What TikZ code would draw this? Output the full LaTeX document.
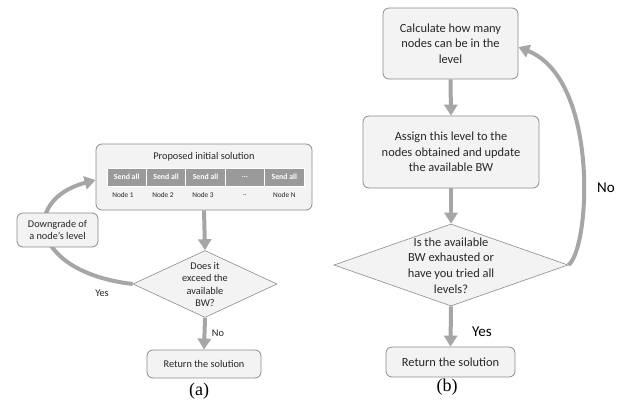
\documentclass[tikz,border=0pt]{standalone}
\usepackage{fontspec}
\setmainfont{Carlito}
\newfontfamily\capfont{Liberation Serif}
\usetikzlibrary{arrows.meta,shapes.geometric}
\definecolor{boxfill}{HTML}{F3F3F3}
\definecolor{boxdraw}{HTML}{8C8C8C}
\definecolor{cellfill}{HTML}{9A9A9A}
\definecolor{arrowgray}{HTML}{A6A6A6}
\tikzset{
  box/.style={draw=boxdraw, fill=boxfill, rounded corners=6pt, line width=0.8pt, inner sep=0pt},
  dia/.style={draw=boxdraw, fill=boxfill, diamond, line width=0.6pt, inner sep=0pt},
  cell/.style={draw=white, line width=1pt, fill=cellfill, minimum width=39.4pt, minimum height=18pt, inner sep=0pt, text=white, font=\fontsize{7.8}{8}\selectfont\bfseries},
  nlab/.style={font=\fontsize{7.3}{8}\selectfont, text=black!85},
  txta/.style={align=center, font=\fontsize{10.3}{12.3}\selectfont, text=black!85},
  txtb/.style={align=center, font=\fontsize{12.4}{15.6}\selectfont, text=black!85},
  conn/.style={draw=arrowgray, line width=4pt, -{Triangle[width=13pt,length=11pt]}},
  captext/.style={font=\capfont\fontsize{18}{18}\selectfont}
}
\begin{document}
\begin{tikzpicture}[x=1pt,y=-1pt]
\useasboundingbox[fill=white] (0,0) rectangle (621,405);
% ---------- panel (a)
\node[box, minimum width=216pt, minimum height=66pt] (prop) at (204,177) {};
\node[txta] (proptitle) at (204,157) {Proposed initial solution};
\node[cell] (s1) at (126.7,177) {Send all};
\node[cell] (s2) at (166.1,177) {Send all};
\node[cell] (s3) at (205.5,177) {Send all};
\node[cell] (s4) at (244.9,177) {...};
\node[cell] (s5) at (284.3,177) {Send all};
\node[nlab] (n1) at (123,195) {Node 1};
\node[nlab] (n2) at (163,195) {Node 2};
\node[nlab] (n3) at (203,195) {Node 3};
\node[nlab] (n4) at (244.9,195) {..};
\node[nlab] (n5) at (284.3,195) {Node N};
\node[dia, minimum width=144pt, minimum height=67pt] (dA) at (205,284) {};
\node[box, minimum width=114pt, minimum height=28pt, txta] (rA) at (204,364) {Return the solution};
% loop behind downgrade box
\draw[conn] (dA.west) .. controls (30,272) and (20,200) .. ([yshift=-3pt]prop.west);
\node[box, minimum width=81pt, minimum height=34pt, txta] (down) at (57.5,230) {Downgrade of\\a node's level};
\node[txta] (dAt) at (205,284.5) {Does it\\exceed the\\available\\BW?};
\draw[conn] (prop.south) -- (dA.north);
\draw[conn] (dA.south) -- (rA.north);
\node[txta] (yesA) at (102,293) {Yes};
\node[txta] (noA) at (218,333) {No};
\node[captext] (capa) at (199,391) {(a)};
% ---------- panel (b)
\node[box, minimum width=135pt, minimum height=71pt, txtb] (c1) at (450.5,43.5) {Calculate how many\\nodes can be in the\\level};
\node[box, minimum width=176pt, minimum height=72pt, txtb] (c2) at (451,152) {Assign this level to the\\nodes obtained and update\\the available BW};
\node[dia, minimum width=234pt, minimum height=82pt] (dB) at (451,265) {};
\node[txtb] (dBt) at (451,265.5) {Is the available\\BW exhausted or\\have you tried all\\levels?};
\node[box, minimum width=129pt, minimum height=30pt, txtb] (rB) at (450.5,362) {Return the solution};
\draw[conn] (c1.south) -- (c2.north);
\draw[conn] (c2.south) -- (dB.north);
\draw[conn] (dB.south) -- (rB.north);
\draw[conn] (dB.east) .. controls (590,250) and (600,80) .. ([yshift=-3.5pt]c1.east);
\node[font=\fontsize{15}{15}\selectfont] (yesB) at (482,332) {Yes};
\node[font=\fontsize{15}{15}\selectfont] (noB) at (606,188) {No};
\node[captext] (capb) at (447,387) {(b)};
\end{tikzpicture}
\end{document}
